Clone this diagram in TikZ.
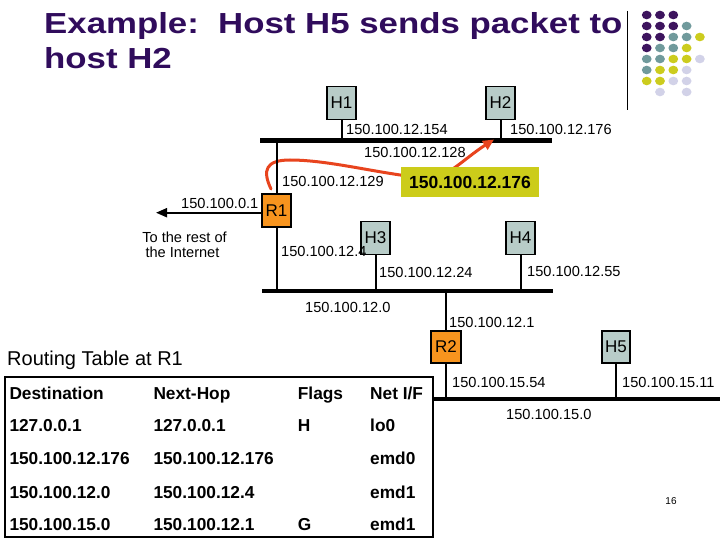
\documentclass[tikz,border=0pt]{standalone}
\usepackage{fontspec}
\setmainfont{Liberation Sans}
\newfontfamily\titlefont{Liberation Sans}[FakeStretch=1.2]
\usetikzlibrary{arrows.meta}
\definecolor{titlec}{RGB}{48,12,92}
\definecolor{hostc}{RGB}{184,204,200}
\definecolor{routerc}{RGB}{247,148,30}
\definecolor{yellowc}{RGB}{204,204,26}
\definecolor{redc}{RGB}{232,68,30}
\definecolor{dotP}{RGB}{61,20,94}
\definecolor{dotT}{RGB}{112,154,156}
\definecolor{dotY}{RGB}{204,204,30}
\definecolor{dotL}{RGB}{210,210,232}
\begin{document}
\begin{tikzpicture}[x=1pt,y=-1pt,
  hostbox/.style={draw=black,line width=1.5pt,fill=hostc,minimum width=29pt,minimum height=33pt,inner sep=0pt,font=\fontsize{17}{19}\selectfont},
  routerbox/.style={hostbox,fill=routerc},
  lbl/.style={anchor=base west,inner sep=0pt,font=\fontsize{14.6}{17}\selectfont},
  cell/.style={anchor=base west,inner sep=0pt,font=\fontsize{17.3}{20}\selectfont\bfseries},
  bus/.style={line width=4.5pt},
  stem/.style={line width=2pt},
  pathc/.style={draw=redc,line width=3pt,line cap=round,-{Triangle[length=11pt,width=10pt]}}
]
\useasboundingbox (0,0) rectangle (720,540);

% title
\node[anchor=base west,inner sep=0pt,text=titlec,font=\titlefont\bfseries\fontsize{29}{35}\selectfont] (t1) at (44,33.3) {Example:\ \ Host H5 sends packet to};
\node[anchor=base west,inner sep=0pt,text=titlec,font=\titlefont\bfseries\fontsize{29}{35}\selectfont] (t2) at (44,68.3) {host H2};
\coordinate (vr1) at (627.3,11);
\coordinate (vr2) at (627.3,110);
\draw[line width=1.3pt] (vr1) -- (vr2);
\foreach \c/\r/\col in {1/1/dotP,2/1/dotP,3/1/dotP,
  1/2/dotP,2/2/dotP,3/2/dotP,4/2/dotT,
  1/3/dotP,2/3/dotP,3/3/dotT,4/3/dotT,5/3/dotY,
  1/4/dotP,2/4/dotT,3/4/dotT,4/4/dotY,
  1/5/dotT,2/5/dotT,3/5/dotY,4/5/dotY,5/5/dotL,
  1/6/dotT,2/6/dotY,3/6/dotY,4/6/dotL,
  1/7/dotY,2/7/dotY,3/7/dotL,4/7/dotL,
  2/8/dotL,4/8/dotL}
  \fill[\col] ({633.4+13.3*\c},{4+11*\r}) ellipse[x radius=4.9pt,y radius=4.3pt];

% buses
\coordinate (b1w) at (260,140.5); \coordinate (b1e) at (552,140.5);
\coordinate (b2w) at (262,291); \coordinate (b2e) at (553,291);
\draw[bus] (b1w) -- (b1e);
\draw[bus] (b2w) -- (b2e);

% red path (behind yellow box)
\coordinate (ps) at (271,189);
\coordinate (pe) at (494,139.5);
\draw[pathc] (ps) .. controls (262,170) and (266,160) .. (290,160)
  .. controls (330,160) and (380,174) .. (425,178)
  .. controls (446,180) and (462,160) .. (pe);

% hosts and routers
\node[hostbox] (h1) at (341.5,103) {H1};
\node[hostbox] (h2) at (500.5,103) {H2};
\node[routerbox] (r1) at (276.5,210.5) {R1};
\node[hostbox] (h3) at (375.5,238) {H3};
\node[hostbox] (h4) at (520.5,238) {H4};
\node[routerbox,minimum width=30pt,minimum height=32pt] (r2) at (446,347) {R2};
\node[hostbox,minimum width=28pt,minimum height=32pt] (h5) at (616,347) {H5};

% table
\node[draw=black,line width=2pt,minimum width=428pt,minimum height=160pt,inner sep=0pt] (tab) at (219,457) {};
\coordinate (b3e) at (722,399);
\draw[bus] (tab.east |- b3e) -- (b3e);

% stems
\draw[stem] (h1.south) -- (h1.south |- b1w);
\draw[stem] (h2.south) -- (h2.south |- b1w);
\draw[stem] (r1.north) -- (r1.north |- b1w);
\draw[stem] (r1.south) -- (r1.south |- b2w);
\draw[stem] (h3.south) -- (h3.south |- b2w);
\draw[stem] (h4.south) -- (h4.south |- b2w);
\draw[stem] (r2.north) -- (r2.north |- b2w);
\draw[stem] (r2.south) -- (r2.south |- b3e);
\draw[stem] (h5.south) -- (h5.south |- b3e);

% internet arrow
\coordinate (inet) at (156,212.7);
\draw[line width=2pt,-{Triangle[length=11pt,width=9pt]}] (r1.west |- inet) -- (inet);

% yellow destination box
\node[fill=yellowc,minimum width=138pt,minimum height=30pt,inner sep=0pt,font=\fontsize{17.5}{20}\selectfont\bfseries] (dest) at (470,182) {150.100.12.176};

% labels
\node[lbl] (l154) at (346,135) {150.100.12.154};
\node[lbl] (l176) at (510,135) {150.100.12.176};
\node[lbl] (l128) at (364,158) {150.100.12.128};
\node[lbl] (l129) at (282,187) {150.100.12.129};
\node[lbl] (l01) at (181,209) {150.100.0.1};
\node[lbl,anchor=base] (int1) at (184.5,243) {To the rest of};
\node[lbl,anchor=base] (int2) at (182.5,258) {the Internet};
\node[lbl] (l4) at (281,256) {150.100.12.4};
\node[lbl] (l24) at (379,277) {150.100.12.24};
\node[lbl] (l55) at (527,276) {150.100.12.55};
\node[lbl] (l0) at (305,312) {150.100.12.0};
\node[lbl] (l1) at (449,327) {150.100.12.1};
\node[lbl] (l54) at (452,387) {150.100.15.54};
\node[lbl] (l11) at (622,387) {150.100.15.11};
\node[lbl] (l150) at (506,419) {150.100.15.0};

% routing table
\node[anchor=base west,inner sep=0pt,font=\fontsize{20}{23}\selectfont] (rt) at (7,365) {Routing Table at R1};
\node[cell] at (9.3,399) {Destination};
\node[cell] at (153.3,399) {Next-Hop};
\node[cell] at (297.7,399) {Flags};
\node[cell] at (370,399) {Net I/F};
\node[cell] at (9.3,431) {127.0.0.1};
\node[cell] at (153.3,431) {127.0.0.1};
\node[cell] at (297.7,431) {H};
\node[cell] at (370,431) {lo0};
\node[cell] at (9.3,464) {150.100.12.176};
\node[cell] at (153.3,464) {150.100.12.176};
\node[cell] at (370,464) {emd0};
\node[cell] at (9.3,498) {150.100.12.0};
\node[cell] at (153.3,498) {150.100.12.4};
\node[cell] at (370,498) {emd1};
\node[cell] at (9.3,530) {150.100.15.0};
\node[cell] at (153.3,530) {150.100.12.1};
\node[cell] at (297.7,530) {G};
\node[cell] at (370,530) {emd1};

\node[inner sep=0pt,font=\fontsize{10}{11}\selectfont] (pg) at (671,501) {16};
\end{tikzpicture}
\end{document}
